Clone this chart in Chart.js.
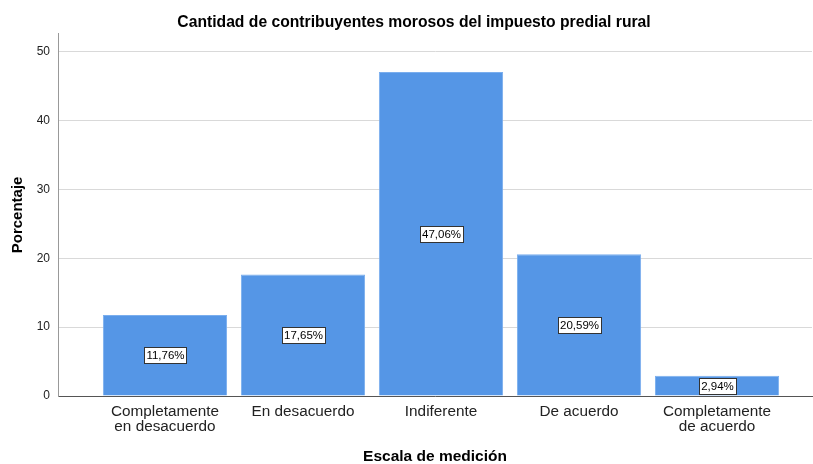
<!DOCTYPE html>
<html>
<head>
<meta charset="utf-8">
<script src="https://cdn.jsdelivr.net/npm/chart.js@4"></script>
<style>
  html, body { margin: 0; padding: 0; background: #fff; }
  #wrap { width: 813px; height: 464px; }
</style>
</head>
<body>
<div id="wrap"><canvas id="chart"></canvas></div>
<script>
const categories = [
    ["Completamente", "en desacuerdo"],
    ["En desacuerdo"],
    ["Indiferente"],
    ["De acuerdo"],
    ["Completamente", "de acuerdo"],
];
const percentValues = [11.76, 17.65, 47.06, 20.59, 2.94];
const yTicks = [0, 10, 20, 30, 40, 50];

const points = percentValues.map((v, i) => ({ x: i, y: v }));

// boxed value label in the middle of each bar
const barLabels = {
    id: "barLabels",
    afterDatasetsDraw(chart) {
        const ctx = chart.ctx;
        const meta = chart.getDatasetMeta(0);
        ctx.save();
        ctx.font = "11.5px 'Liberation Sans', Arial, sans-serif";
        ctx.textAlign = "center";
        ctx.textBaseline = "middle";
        meta.data.forEach((bar, i) => {
            const txt = percentValues[i].toFixed(2).replace(".", ",") + "%";
            const w = Math.round(ctx.measureText(txt).width + 4);
            const h = 16;
            const cx = Math.round(bar.x);
            const cy = Math.round((bar.y + bar.base) / 2);
            const bx = Math.round(cx - w / 2);
            const by = Math.round(cy - h / 2);
            ctx.fillStyle = "#fff";
            ctx.fillRect(bx, by, w, h);
            ctx.strokeStyle = "#333";
            ctx.lineWidth = 1;
            ctx.strokeRect(bx + 0.5, by + 0.5, w, h);
            ctx.fillStyle = "#000";
            ctx.fillText(txt, cx + 0.5, by + h / 2 + 1);
        });
        ctx.restore();
    },
};

const data = {
    datasets: [
        {
            label: "Porcentaje",
            data: points,
            backgroundColor: "#5596e6",
            borderColor: "#7aaeee",
            borderWidth: 1,
            barPercentage: 0.9,
            categoryPercentage: 1,
        },
    ],
};

const config = {
    type: "bar",
    data: data,
    plugins: [barLabels],
    options: {
        responsive: true,
        maintainAspectRatio: false,
        animation: false,
        layout: { padding: { left: 16, right: 1, top: 0, bottom: 0 } },
        plugins: {
            legend: { display: false },
            tooltip: { enabled: false },
            title: {
                display: true,
                text: "Cantidad de contribuyentes morosos del impuesto predial rural",
                color: "#000",
                font: { family: "'Liberation Sans', Arial, sans-serif", size: 15.7, weight: "bold", lineHeight: 1.2 },
                padding: { top: 13, bottom: 2 },
            },
        },
        scales: {
            x: {
                type: "linear",
                offset: false,
                min: -0.775,
                max: 4.688,
                afterBuildTicks(scale) {
                    scale.ticks = categories.map((c, i) => ({ value: i }));
                },
                afterFit(scale) { scale.height = 68; },
                ticks: {
                    autoSkip: false,
                    maxRotation: 0,
                    padding: 0,
                    color: "#222",
                    font: { family: "'Liberation Sans', Arial, sans-serif", size: 15.3, lineHeight: 1.0 },
                    callback: (v) => categories[v],
                },
                grid: { display: false },
                border: { display: true, color: "#555", width: 1 },
                title: {
                    display: true,
                    text: "Escala de medición",
                    color: "#000",
                    font: { family: "'Liberation Sans', Arial, sans-serif", size: 15.5, weight: "bold", lineHeight: 1.0 },
                    padding: { top: 0, bottom: 0 },
                },
            },
            y: {
                min: 0,
                max: 52.6,
                afterBuildTicks(scale) {
                    scale.ticks = yTicks.map((v) => ({ value: v }));
                },
                afterFit(scale) { scale.width = 42; },
                ticks: {
                    padding: 8,
                    color: "#222",
                    font: { family: "'Liberation Sans', Arial, sans-serif", size: 12 },
                },
                grid: {
                    color: "#d9d9d9",
                    lineWidth: 1,
                    drawTicks: false,
                },
                border: { display: true, color: "#999", width: 1 },
                title: {
                    display: true,
                    text: "Porcentaje",
                    color: "#000",
                    font: { family: "'Liberation Sans', Arial, sans-serif", size: 15, weight: "bold" },
                    padding: { top: -7, bottom: 0 },
                },
            },
        },
    },
};

const myChart = new Chart(document.getElementById("chart"), config);
</script>
</body>
</html>
